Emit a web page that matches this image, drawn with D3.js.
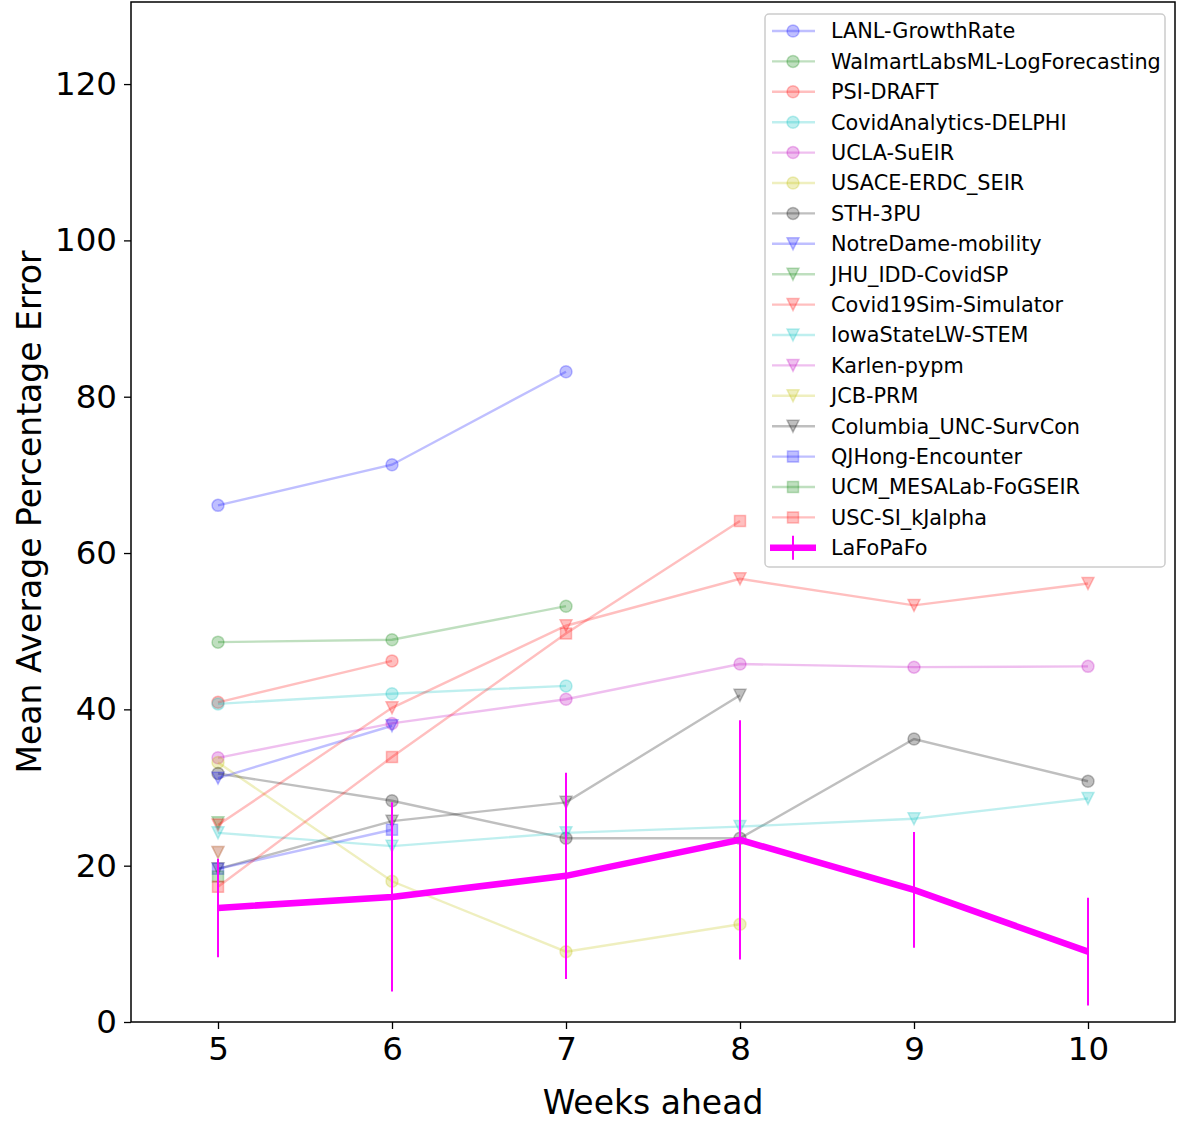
<!DOCTYPE html>
<html>
<head>
<meta charset="utf-8">
<script src="https://cdn.jsdelivr.net/npm/d3@7"></script>
<style>
  body { margin: 0; background: #fff; }
  svg { display: block; font-family: "DejaVu Sans", sans-serif; }
</style>
</head>
<body>
<div id="chart"></div>
<script>
// weeks ahead on the x axis
var weeks = [5, 6, 7, 8, 9, 10];
var xTicks = [5, 6, 7, 8, 9, 10];
var yTicks = [0, 20, 40, 60, 80, 100, 120];

// the competing models, in legend order
var modelNames = [
    "LANL-GrowthRate", "WalmartLabsML-LogForecasting", "PSI-DRAFT", "CovidAnalytics-DELPHI",
    "UCLA-SuEIR", "USACE-ERDC_SEIR", "STH-3PU", "NotreDame-mobility", "JHU_IDD-CovidSP",
    "Covid19Sim-Simulator", "IowaStateLW-STEM", "Karlen-pypm", "JCB-PRM",
    "Columbia_UNC-SurvCon", "QJHong-Encounter", "UCM_MESALab-FoGSEIR", "USC-SI_kJalpha"
];
var modelColors = ["b", "g", "r", "c", "m", "y", "k", "b", "g", "r", "c", "m", "y", "k", "b", "g", "r"];
var modelMarkers = ["o", "o", "o", "o", "o", "o", "o", "v", "v", "v", "v", "v", "v", "v", "s", "s", "s"];

// MAPE per week (null = no forecast that week)
var modelValues = [
    [66.1, 71.3, 83.2, null, null, null],
    [48.6, 48.9, 53.2, null, null, null],
    [40.9, 46.2, null, null, null, null],
    [40.7, 42.0, 43.0, null, null, null],
    [33.8, 38.2, 41.3, 45.8, 45.4, 45.5],
    [33.2, 18.0, 9.0, 12.5, null, null],
    [31.8, 28.3, 23.5, 23.5, 36.2, 30.8],
    [31.2, 37.9, null, null, null, null],
    [25.5, null, null, null, null, null],
    [25.2, 40.2, 50.7, 56.7, 53.3, 56.1],
    [24.2, 22.5, 24.2, 25.0, 26.0, 28.6],
    [21.7, null, null, null, null, null],
    [21.7, null, null, null, null, null],
    [19.6, 25.7, 28.1, 41.8, null, null],
    [19.6, 24.6, null, null, null, null],
    [18.6, null, null, null, null, null],
    [17.3, 33.9, 49.7, 64.1, null, null]
];

// our model, with its error bars
var lafoName = "LaFoPaFo";
var lafoValues = [14.6, 16.0, 18.7, 23.3, 16.9, 9.0];
var lafoErrors = [6.3, 12.1, 13.2, 15.3, 7.4, 6.9];

// matplotlib single letter colours
var mplColors = {
    b: "rgb(0,0,255)", g: "rgb(0,128,0)", r: "rgb(255,0,0)", c: "rgb(0,191,191)",
    m: "rgb(191,0,191)", y: "rgb(191,191,0)", k: "rgb(0,0,0)"
};

var width = 1179, height = 1122;
var plotLeft = 131, plotRight = 1175, plotTop = 2, plotBottom = 1022;

var svg = d3.select("#chart").append("svg")
    .attr("width", width)
    .attr("height", height);

var x = d3.scaleLinear().domain([4.5, 10.5]).range([plotLeft, plotRight]);
var y = d3.scaleLinear().domain([0, 130.5]).range([plotBottom, plotTop]);

var alpha = 0.25;

// marker shape centred on 0,0
function markerPath(m) {
    if (m == "o") return d3.symbol().type(d3.symbolCircle).size(Math.PI * 6 * 6)();
    if (m == "s") return "M-5.5,-5.5H5.5V5.5H-5.5Z";
    return "M0,6L6,-6L-6,-6Z"; // triangle down
}

function drawMarker(g, cx, cy, m, col) {
    g.append("path")
        .attr("d", markerPath(m))
        .attr("transform", "translate(" + cx + "," + cy + ")")
        .attr("fill", col)
        .attr("fill-opacity", alpha)
        .attr("stroke", col)
        .attr("stroke-opacity", alpha)
        .attr("stroke-width", 1.5);
}

var plot = svg.append("g");

var line = d3.line()
    .defined(function(d) { return d.v != null; })
    .x(function(d) { return x(d.w); })
    .y(function(d) { return y(d.v); });

for (var i = 0; i < modelNames.length; i++) {
    var col = mplColors[modelColors[i]];
    var pts = weeks.map(function(w, j) { return {w: w, v: modelValues[i][j]}; });
    var g = plot.append("g");
    g.append("path")
        .attr("d", line(pts))
        .attr("fill", "none")
        .attr("stroke", col)
        .attr("stroke-opacity", alpha)
        .attr("stroke-width", 2.4);
    pts.forEach(function(p) {
        if (p.v != null) drawMarker(g, x(p.w), y(p.v), modelMarkers[i], col);
    });
}

// LaFoPaFo line + error bars
var lafo = weeks.map(function(w, j) { return {w: w, v: lafoValues[j], e: lafoErrors[j]}; });
plot.append("path")
    .attr("d", line(lafo))
    .attr("fill", "none")
    .attr("stroke", "#ff00ff")
    .attr("stroke-width", 6.5);
plot.selectAll(".err")
    .data(lafo)
    .enter().append("line")
    .attr("x1", function(d) { return x(d.w); })
    .attr("x2", function(d) { return x(d.w); })
    .attr("y1", function(d) { return y(d.v - d.e); })
    .attr("y2", function(d) { return y(d.v + d.e); })
    .attr("stroke", "#ff00ff")
    .attr("stroke-width", 2);

// axes
var xAxis = svg.append("g")
    .attr("transform", "translate(0," + plotBottom + ")")
    .call(d3.axisBottom(x).tickValues(xTicks).tickSize(7).tickPadding(8).tickFormat(d3.format("d")));
var yAxis = svg.append("g")
    .attr("transform", "translate(" + plotLeft + ",0)")
    .call(d3.axisLeft(y).tickValues(yTicks).tickSize(7).tickPadding(7).tickFormat(d3.format("d")));

[xAxis, yAxis].forEach(function(a) {
    a.select(".domain").remove();
    a.selectAll(".tick line").attr("stroke", "#000").attr("stroke-width", 1.3);
    a.selectAll(".tick text")
        .attr("fill", "#000")
        .style("font-family", "DejaVu Sans")
        .style("font-size", "32.5px");
});

// frame
svg.append("rect")
    .attr("x", plotLeft).attr("y", plotTop)
    .attr("width", plotRight - plotLeft).attr("height", plotBottom - plotTop)
    .attr("fill", "none")
    .attr("stroke", "#000")
    .attr("stroke-width", 1.5);

svg.append("text")
    .attr("x", (plotLeft + plotRight) / 2)
    .attr("y", 1114)
    .attr("text-anchor", "middle")
    .style("font-size", "33px")
    .text("Weeks ahead");

svg.append("text")
    .attr("transform", "translate(41," + ((plotTop + plotBottom) / 2) + ") rotate(-90)")
    .attr("text-anchor", "middle")
    .style("font-size", "33px")
    .text("Mean Average Percentage Error");

// legend
var legX = 765, legY = 14, legW = 400, legH = 553, rowH = 30.4, row0 = 31;
var legend = svg.append("g");
legend.append("rect")
    .attr("x", legX).attr("y", legY)
    .attr("width", legW).attr("height", legH)
    .attr("rx", 4)
    .attr("fill", "#fff").attr("fill-opacity", 0.8)
    .attr("stroke", "#ccc").attr("stroke-width", 1.5);

var allNames = modelNames.concat([lafoName]);
allNames.forEach(function(name, i) {
    var cy = row0 + i * rowH;
    var lg = legend.append("g");
    if (i < modelNames.length) {
        var col = mplColors[modelColors[i]];
        lg.append("line")
            .attr("x1", 772).attr("x2", 815)
            .attr("y1", cy).attr("y2", cy)
            .attr("stroke", col).attr("stroke-opacity", alpha).attr("stroke-width", 2.4);
        drawMarker(lg, 793, cy, modelMarkers[i], col);
    } else {
        lg.append("line")
            .attr("x1", 770).attr("x2", 816)
            .attr("y1", cy).attr("y2", cy)
            .attr("stroke", "#ff00ff").attr("stroke-width", 6.5);
        lg.append("line")
            .attr("x1", 793).attr("x2", 793)
            .attr("y1", cy - 12).attr("y2", cy + 12)
            .attr("stroke", "#ff00ff").attr("stroke-width", 2);
    }
    lg.append("text")
        .attr("x", 831)
        .attr("y", cy)
        .attr("dy", "0.36em")
        .style("font-size", "20.8px")
        .text(name);
});
</script>
</body>
</html>
